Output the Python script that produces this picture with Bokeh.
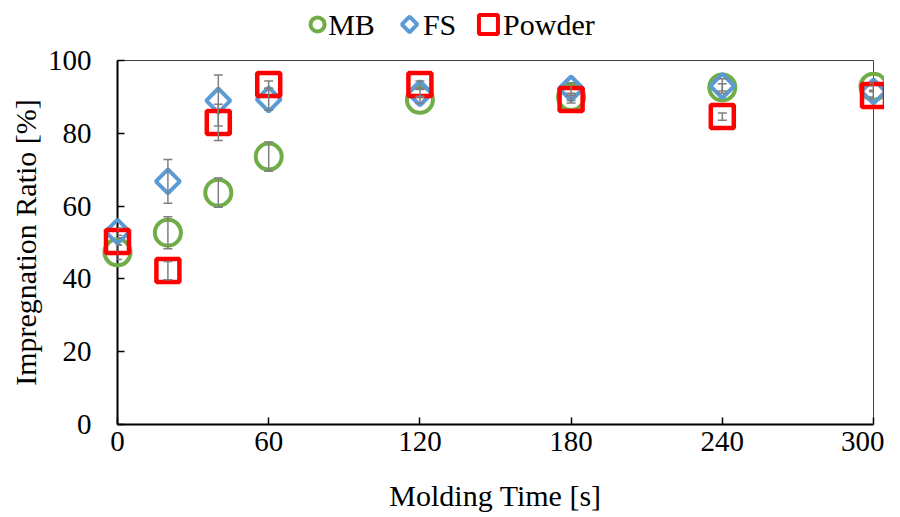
import numpy as np
from bokeh.plotting import figure
from bokeh.layouts import column
from bokeh.models import Whisker, ColumnDataSource, FixedTicker, TeeHead, Range1d
from bokeh.core.properties import value
from bokeh.embed import file_html
from bokeh.resources import INLINE

time_s = [0, 20, 40, 60, 120, 180, 240, 300]
mb = [47.3, 52.7, 63.7, 73.6, 89.2, 90.0, 92.6, 92.8]
mb_err = [2.0, 4.4, 4.0, 4.0, 1.0, 1.0, 1.0, 1.0]
fs = [53.0, 66.8, 89.0, 89.3, 91.0, 92.3, 93.0, 91.5]
fs_err = [1.0, 6.0, 7.0, 3.0, 1.0, 1.5, 2.0, 1.5]
powder = [50.3, 42.3, 83.0, 93.4, 93.4, 89.3, 84.6, 90.4]
powder_err = [1.0, 2.5, 5.0, 1.0, 1.0, 1.0, 1.0, 1.0]

series_names = ["MB", "FS", "Powder"]
x_ticks = [0, 60, 120, 180, 240, 300]
y_ticks = [0, 20, 40, 60, 80, 100]

FONT = "Liberation Serif"
colors = ["#70AD47", "#5B9BD5", "#FF0000"]

xr = Range1d(0, 300)

p = figure(width=884, height=459, output_backend="svg", toolbar_location=None,
           x_range=xr, y_range=(0, 100),
           frame_width=756, frame_height=364,
           min_border_left=117, min_border_right=11, min_border_top=18, min_border_bottom=77)
p.background_fill_color = "white"
p.border_fill_color = "white"
p.outline_line_color = "#404040"
p.outline_line_width = 1
p.xgrid.visible = False
p.ygrid.visible = False

for ax in (p.xaxis, p.yaxis):
    ax.axis_line_color = "black"
    ax.axis_line_width = 2
    ax.major_tick_in = 7
    ax.major_tick_out = 0
    ax.minor_tick_line_color = None
    ax.major_tick_line_color = "black"
    ax.major_tick_line_width = 1.5
    ax.major_label_text_font = FONT
    ax.major_label_text_font_size = "29px"
    ax.major_label_text_color = "black"
    ax.axis_label_text_font = FONT
    ax.axis_label_text_font_size = "30px"
    ax.axis_label_text_font_style = "normal"
    ax.axis_label_text_color = "black"

p.xaxis.ticker = FixedTicker(ticks=x_ticks)
p.yaxis.ticker = FixedTicker(ticks=y_ticks)
p.xaxis.axis_label = "Molding Time [s]"
p.yaxis.axis_label = "Impregnation Ratio [%]"
p.xaxis.major_label_standoff = 7
p.yaxis.major_label_standoff = 26
p.xaxis.axis_label_standoff = 25
p.yaxis.axis_label_standoff = 3

vals = [mb, fs, powder]
errs = [mb_err, fs_err, powder_err]

for v, e in zip(vals, errs):
    src = ColumnDataSource(dict(x=time_s, lo=[a - b for a, b in zip(v, e)], hi=[a + b for a, b in zip(v, e)]))
    w = Whisker(source=src, base="x", lower="lo", upper="hi", line_color="#7f7f7f", line_width=1.5,
                upper_head=TeeHead(size=9, line_color="#7f7f7f", line_width=1.5),
                lower_head=TeeHead(size=9, line_color="#7f7f7f", line_width=1.5), level="overlay")
    p.add_layout(w)

p.scatter(time_s, mb, marker="circle", size=26, fill_color=None, line_color=colors[0], line_width=4, level="overlay")
p.scatter(time_s, fs, marker="square", angle=np.pi / 4, size=17, fill_color=None, line_color=colors[1], line_width=4, level="overlay")
p.scatter(time_s, powder, marker="square", size=23, fill_color=None, line_color=colors[2], line_width=4.5, level="overlay")

# legend strip above the plot, sharing the x mapping of the main frame
lg = figure(width=884, height=42, output_backend="svg", toolbar_location=None,
            x_range=xr, y_range=(0, 1), x_axis_type=None, y_axis_type=None,
            frame_width=756, frame_height=42,
            min_border_left=117, min_border_right=11, min_border_top=0, min_border_bottom=0)
lg.outline_line_color = None
lg.xgrid.visible = False
lg.ygrid.visible = False
lg.background_fill_color = "white"
lg.border_fill_color = "white"

leg_y = 0.43
leg_marker_x = [79.4, 115.9, 147.2]
leg_text_x = [83.6, 121.2, 153.0]
leg_markers = ["circle", "square", "square"]
leg_angles = [0, np.pi / 4, 0]
leg_sizes = [14, 11, 19]
for i in range(3):
    lg.scatter([leg_marker_x[i]], [leg_y], marker=leg_markers[i], angle=leg_angles[i], size=leg_sizes[i],
               fill_color=None, line_color=colors[i], line_width=4)
lg.text(x=leg_text_x, y=[leg_y] * 3, text=series_names, text_font=value(FONT), text_font_size="30px",
        text_color="black", text_baseline="middle", text_align="left")

layout = column(lg, p, spacing=0)
open("out.html", "w").write(file_html(layout, INLINE))
